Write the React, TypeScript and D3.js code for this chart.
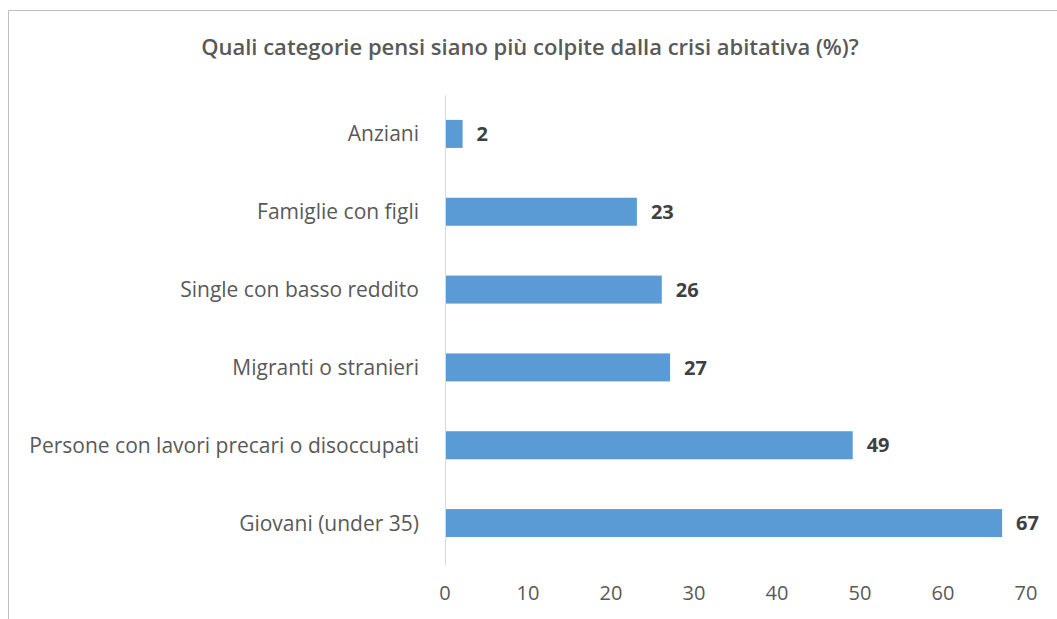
import React from "react";
import * as d3 from "d3";

const categories = [
  "Anziani",
  "Famiglie con figli",
  "Single con basso reddito",
  "Migranti o stranieri",
  "Persone con lavori precari o disoccupati",
  "Giovani (under 35)",
];
const values = [2, 23, 26, 27, 49, 67];
const xTicks = [0, 10, 20, 30, 40, 50, 60, 70];
const title = "Quali categorie pensi siano più colpite dalla crisi abitativa (%)?";

const W = 1057;
const H = 619;
const FONT = "'Open Sans', sans-serif";

export default function App() {
  const left = 445;
  const right = 1026;
  const top = 95;
  const bottom = 562;
  const x = d3.scaleLinear().domain([0, 70]).range([left, right]);
  const y = d3.scaleBand().domain(categories).range([top, bottom]).paddingInner(0.64).paddingOuter(0.32);

  return (
    <svg width={W} height={H} style={{ position: "absolute", left: 0, top: 0 }}>
      <rect x={0} y={0} width={W} height={H} fill="#ffffff" />
      <path d={`M8.5,${H} V10.5 H${W}`} fill="none" stroke="#bfbfbf" strokeWidth={1} />
      <text x={530} y={55} textAnchor="middle" fontFamily={FONT} fontSize={22} fontWeight={600} fill="#595959">
        {title}
      </text>
      <line x1={left + 0.5} x2={left + 0.5} y1={top} y2={bottom + 3} stroke="#d9d9d9" strokeWidth={1} />
      {categories.map((c, i) => (
        <g key={c}>
          <rect x={x(0) + 1} y={y(c)!} width={x(values[i]) - x(0)} height={y.bandwidth()} fill="#5b9bd5" />
          <text x={419} y={y(c)! + y.bandwidth() / 2} dy="0.36em" textAnchor="end" fontFamily={FONT} fontSize={21} fontWeight={500} fill="#595959">
            {c}
          </text>
          <text x={x(values[i]) + 15} y={y(c)! + y.bandwidth() / 2} dy="0.36em" textAnchor="start" fontFamily={FONT} fontSize={20} fontWeight="bold" fill="#404040">
            {values[i]}
          </text>
        </g>
      ))}
      {xTicks.map((t) => (
        <text key={t} x={x(t)} y={600} textAnchor="middle" fontFamily={FONT} fontSize={20} fontWeight={500} fill="#595959">
          {t}
        </text>
      ))}
    </svg>
  );
}
